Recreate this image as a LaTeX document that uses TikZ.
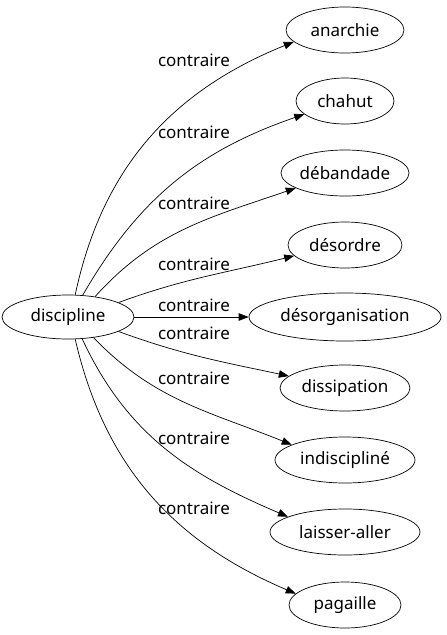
\documentclass[tikz,border=0pt]{standalone}
\usepackage{fontspec}
\setmainfont{Noto Sans}
\usetikzlibrary{shapes.geometric,arrows.meta}
\begin{document}
\begin{tikzpicture}[x=1pt,y=-1pt,
  every node/.style={font=\fontsize{17}{20}\selectfont},
  word/.style={draw,ellipse,inner sep=0pt,minimum height=44pt,line width=0.7pt},
  lbl/.style={inner sep=0pt,anchor=center},
  rel/.style={-{Triangle[length=10pt,width=7.5pt]},line width=0.7pt}]
\useasboundingbox (0,0) rectangle (447,635);
\node[word,minimum width=132pt] (d) at (68,317) {discipline};
\node[word,minimum width=118pt,minimum height=46pt] (a1) at (345,30) {anarchie};
\node[word,minimum width=98pt,minimum height=46pt] (a2) at (345,101) {chahut};
\node[word,minimum width=124pt,minimum height=46pt] (a3) at (345,173) {débandade};
\node[word,minimum width=114pt,minimum height=46pt] (a4) at (345,245) {désordre};
\node[word,minimum width=192pt,minimum height=48pt] (a5) at (345,317) {désorganisation};
\node[word,minimum width=130pt,minimum height=46pt] (a6) at (345,388) {dissipation};
\node[word,minimum width=140pt,minimum height=46pt] (a7) at (345,460) {indiscipliné};
\node[word,minimum width=150pt,minimum height=46pt] (a8) at (345,532) {laisser-aller};
\node[word,minimum width=112pt,minimum height=46pt] (a9) at (345,605) {pagaille};
\draw[rel] (d.72) to[out=78,in=202] (a1.193);
\draw[rel] (d.56) to[out=60,in=199] (a2.198);
\draw[rel] (d.37) to[out=48,in=199] (a3.197);
\draw[rel] (d.16) to[out=20,in=194] (a4.192);
\draw[rel] (d) -- (a5);
\draw[rel] (d.-16) to[out=-20,in=168] (a6.168);
\draw[rel] (d.-39) to[out=-46,in=158] (a7.164);
\draw[rel] (d.-57) to[out=-65,in=157] (a8.165);
\draw[rel] (d.-72) to[out=-77,in=157] (a9.167);
\node[lbl] (l1) at (194,60) {contraire};
\node[lbl] (l2) at (194,132) {contraire};
\node[lbl] (l3) at (194,203) {contraire};
\node[lbl] (l4) at (194,264) {contraire};
\node[lbl] (l5) at (194,305) {contraire};
\node[lbl] (l6) at (194,333) {contraire};
\node[lbl] (l7) at (194,378) {contraire};
\node[lbl] (l8) at (194,438) {contraire};
\node[lbl] (l9) at (194,508) {contraire};
\end{tikzpicture}
\end{document}
